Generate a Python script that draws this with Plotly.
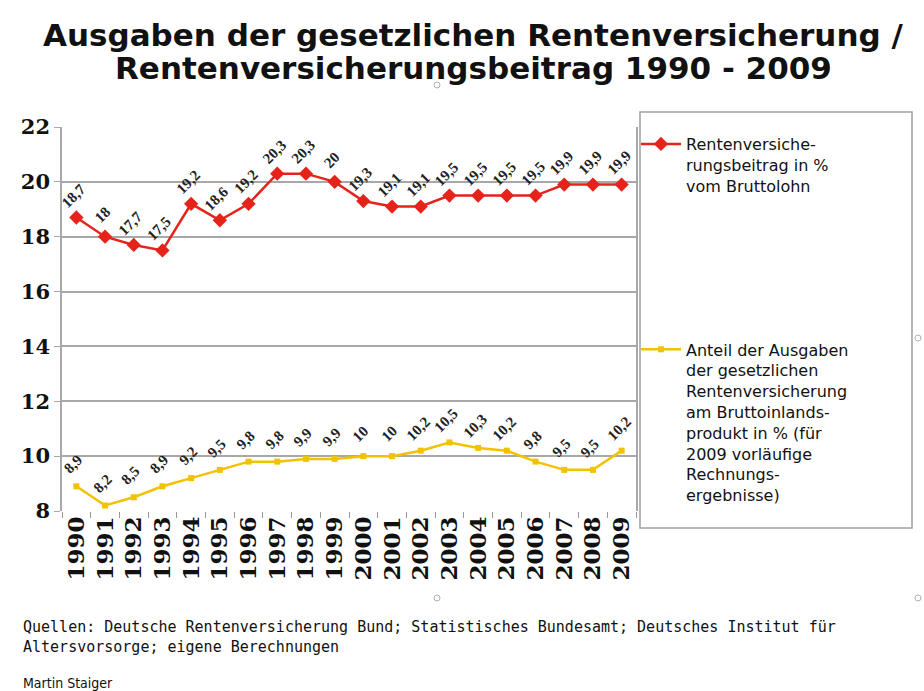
import plotly.graph_objects as go

years = list(range(1990, 2010))
beitrag = [18.7, 18.0, 17.7, 17.5, 19.2, 18.6, 19.2, 20.3, 20.3, 20.0,
           19.3, 19.1, 19.1, 19.5, 19.5, 19.5, 19.5, 19.9, 19.9, 19.9]
ausgaben = [8.9, 8.2, 8.5, 8.9, 9.2, 9.5, 9.8, 9.8, 9.9, 9.9,
            10.0, 10.0, 10.2, 10.5, 10.3, 10.2, 9.8, 9.5, 9.5, 10.2]
y_ticks = [8, 10, 12, 14, 16, 18, 20, 22]

name_red = "Rentenversiche-<br>rungsbeitrag in %<br>vom Bruttolohn"
name_yel = ("Anteil der Ausgaben<br>der gesetzlichen<br>Rentenversicherung<br>"
            "am Bruttoinlands-<br>produkt in % (für<br>2009 vorläufige<br>Rechnungs-<br>ergebnisse)")
title1 = "Ausgaben der gesetzlichen Rentenversicherung /"
title2 = "Rentenversicherungsbeitrag 1990 - 2009"
foot = ("Quellen: Deutsche Rentenversicherung Bund; Statistisches Bundesamt; Deutsches Institut für<br>"
        "Altersvorsorge; eigene Berechnungen")
author = "Martin Staiger"

RED = "#e5231b"
YEL = "#f2c200"

def fmt(v):
    s = ("%.1f" % v).rstrip("0").rstrip(".")
    return s.replace(".", ",")

# plot area in pixels
L, R, T, B = 62, 636, 127, 511
def px(xp):
    return (xp - L) / (R - L)
def py(yp):
    return (B - yp) / (B - T)

fig = go.Figure()
fig.add_trace(go.Scatter(x=years, y=beitrag, mode="lines+markers", name=name_red,
                         legendgroup="a",
                         line=dict(color=RED, width=2.5),
                         marker=dict(symbol="diamond", size=11, color=RED)))
fig.add_trace(go.Scatter(x=years, y=ausgaben, mode="lines+markers", name=name_yel,
                         legendgroup="b",
                         line=dict(color=YEL, width=2.5),
                         marker=dict(symbol="square", size=6, color=YEL)))

for series in (beitrag, ausgaben):
    for x, v in zip(years, series):
        fig.add_annotation(x=x, y=v, xref="x", yref="y", text="<b>" + fmt(v) + "</b>",
                           showarrow=False, textangle=-45,
                           xshift=-3, yshift=22,
                           font=dict(family="Liberation Serif", size=15, color="#222"))

tfont = dict(family="DejaVu Sans", size=31, color="#111", weight="bold")
fig.add_annotation(xref="paper", yref="paper", x=px(473), y=py(35), xanchor="center",
                   yanchor="middle", showarrow=False, text=title1, font=tfont)
fig.add_annotation(xref="paper", yref="paper", x=px(473), y=py(68), xanchor="center",
                   yanchor="middle", showarrow=False, text=title2, font=tfont)
fig.add_annotation(xref="paper", yref="paper", x=px(21), y=py(637), xanchor="left",
                   yanchor="middle", align="left", showarrow=False, text=foot,
                   font=dict(family="DejaVu Sans Mono", size=15, color="#111"))
fig.add_annotation(xref="paper", yref="paper", x=px(21), y=py(683), xanchor="left",
                   yanchor="middle", showarrow=False, text=author,
                   font=dict(family="DejaVu Sans Condensed", size=14, color="#111"))

shapes = [dict(type="rect", xref="paper", yref="paper",
               x0=px(640), x1=px(912), y0=py(528), y1=py(112),
               line=dict(color="#a0a0a0", width=1.5))]
for cx, cy in [(437, 85), (918, 338), (437, 598), (918, 598)]:
    shapes.append(dict(type="circle", xref="paper", yref="paper",
                       x0=px(cx - 3), x1=px(cx + 3), y0=py(cy + 3), y1=py(cy - 3),
                       line=dict(color="#b0b0b0", width=1)))

fig.update_layout(
    width=924, height=691,
    margin=dict(l=L, r=924 - R, t=T, b=691 - B),
    paper_bgcolor="white", plot_bgcolor="white",
    showlegend=True,
    legend=dict(x=px(636), y=1.0, xanchor="left", yanchor="top",
                valign="top", tracegroupgap=140, maxheight=650,
                font=dict(family="DejaVu Sans", size=16, color="#111"),
                bgcolor="rgba(0,0,0,0)", itemwidth=40),
    shapes=shapes,
)

fig.update_xaxes(range=[years[0] - 0.5, years[-1] + 0.5],
                 tickmode="array", tickvals=years, ticktext=[str(y) for y in years],
                 tickangle=-90, showgrid=False, zeroline=False,
                 ticks="", showline=False,
                 minor=dict(tickmode="array",
                            tickvals=[y - 0.5 for y in years] + [years[-1] + 0.5],
                            ticks="outside", ticklen=6, tickcolor="#999",
                            showgrid=False),
                 tickfont=dict(family="DejaVu Serif", size=23, color="#111", weight="bold"))
fig.update_yaxes(range=[8, 22], tickvals=y_ticks, showgrid=True,
                 gridcolor="#a8a8a8", gridwidth=1.5,
                 showline=True, linecolor="#a8a8a8", linewidth=1.5, mirror=True,
                 ticks="outside", ticklen=6, tickcolor="#a8a8a8",
                 zeroline=False,
                 tickfont=dict(family="DejaVu Serif", size=21, color="#111", weight="bold"))

fig.write_html("out.html")
